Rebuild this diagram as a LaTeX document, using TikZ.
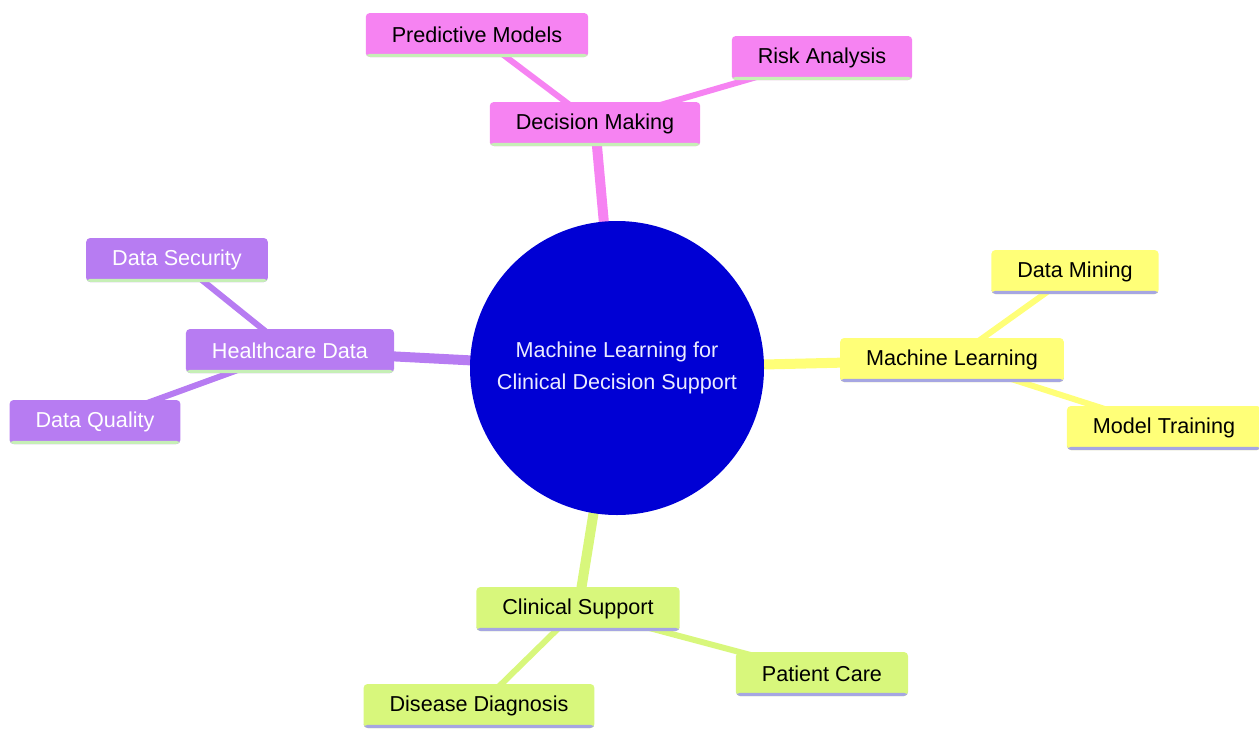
\documentclass[tikz,border=0pt]{standalone}
\usepackage{fontspec}
\setmainfont{Liberation Sans}
\usepackage{tikz}
\usetikzlibrary{backgrounds}

\definecolor{dmpink}{HTML}{F683F2}
\definecolor{hdpurple}{HTML}{B77CF2}
\definecolor{mlyellow}{HTML}{FFFF78}
\definecolor{csgreen}{HTML}{D8F77C}
\definecolor{rootblue}{HTML}{0000D4}
\definecolor{lineGreen}{HTML}{C6EFB6}
\definecolor{lineLavender}{HTML}{A6A6E2}

\tikzset{
	topic/.style={rounded corners=2pt, inner xsep=13pt, minimum height=22pt, font=\fontsize{10.8}{13}\selectfont},
	underline/.style={path picture={\fill[#1] ([yshift=1.6pt]path picture bounding box.south west) rectangle (path picture bounding box.south east);}},
	trunk/.style={line width=5pt, #1},
	twig/.style={line width=3pt, #1}
}

\begin{document}
\begin{tikzpicture}[x=0.5pt, y=-0.5pt]
	\useasboundingbox (0,0) rectangle (1259,729);

	\node[circle, fill=rootblue, minimum size=147pt, align=center, text=blue!8, font=\fontsize{10.8}{16}\selectfont] (root) at (617,368) {Machine Learning for\\Clinical Decision Support};

	\node[topic, fill=dmpink, underline=lineGreen] (decision) at (595,124) {Decision Making};
	\node[topic, fill=dmpink, underline=lineGreen] (predictive) at (477,35) {Predictive Models};
	\node[topic, fill=dmpink, underline=lineGreen] (risk) at (822,58) {Risk Analysis};

	\node[topic, fill=hdpurple, underline=lineGreen, text=white] (health) at (290,351) {Healthcare Data};
	\node[topic, fill=hdpurple, underline=lineGreen, text=white] (security) at (177,260) {Data Security};
	\node[topic, fill=hdpurple, underline=lineGreen, text=white] (quality) at (95,422) {Data Quality};

	\node[topic, fill=mlyellow, underline=lineLavender] (learning) at (952,360) {Machine Learning};
	\node[topic, fill=mlyellow, underline=lineLavender] (mining) at (1075,272) {Data Mining};
	\node[topic, fill=mlyellow, underline=lineLavender] (training) at (1164,428) {Model Training};

	\node[topic, fill=csgreen, underline=lineLavender] (clinical) at (578,609) {Clinical Support};
	\node[topic, fill=csgreen, underline=lineLavender] (diagnosis) at (479,706) {Disease Diagnosis};
	\node[topic, fill=csgreen, underline=lineLavender] (care) at (822,674) {Patient Care};

	\begin{scope}[on background layer]
		\draw[trunk=dmpink] (root.center) -- (decision.center);
		\draw[trunk=hdpurple] (root.center) -- (health.center);
		\draw[trunk=mlyellow] (root.center) -- (learning.center);
		\draw[trunk=csgreen] (root.center) -- (clinical.center);
		\foreach \leaf in {predictive,risk}
			\draw[twig=dmpink] (decision.center) -- (\leaf.center);
		\foreach \leaf in {security,quality}
			\draw[twig=hdpurple] (health.center) -- (\leaf.center);
		\foreach \leaf in {mining,training}
			\draw[twig=mlyellow] (learning.center) -- (\leaf.center);
		\foreach \leaf in {diagnosis,care}
			\draw[twig=csgreen] (clinical.center) -- (\leaf.center);
	\end{scope}
\end{tikzpicture}
\end{document}
